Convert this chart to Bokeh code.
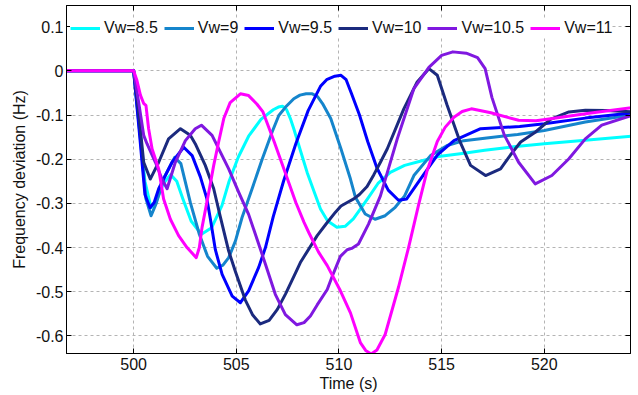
from bokeh.plotting import figure
from bokeh.models import (Legend, LegendItem, LinearAxis, FixedTicker,
                          CustomJSTickFormatter, Range1d)
from bokeh.embed import file_html
from bokeh.resources import INLINE

# ---- data: frequency deviation after the disturbance at t = 500 s ----
series_labels = ["Vw=8.5", "Vw=9", "Vw=9.5", "Vw=10", "Vw=10.5", "Vw=11"]
series_colors = ["#00FFFF", "#1585CC", "#0000FF", "#1B2A7E", "#8018E0", "#FF00FF"]

t_85 = [496.5, 500.0, 500.25, 500.55, 500.85, 501.1, 501.45, 501.8, 502.1, 502.4, 502.8,
        503.3, 503.8, 504.3, 504.65, 505.1, 505.6, 506.2, 506.8, 507.05, 507.25, 507.45,
        507.65, 507.8, 508.1, 508.45, 508.8, 509.1, 509.45, 509.9, 510.3, 510.7, 511.1,
        511.45, 511.9, 512.5, 513.2, 514.0, 514.85, 516.0, 517.1, 518.5, 520.0, 522.0, 524.5]
v_85 = [0, 0, -0.11, -0.25, -0.31, -0.295, -0.255, -0.235, -0.25, -0.29, -0.34,
        -0.37, -0.355, -0.305, -0.25, -0.195, -0.148, -0.11, -0.088, -0.082, -0.080, -0.088,
        -0.11, -0.131, -0.177, -0.23, -0.275, -0.313, -0.34, -0.354, -0.352, -0.335, -0.309,
        -0.286, -0.255, -0.23, -0.214, -0.204, -0.194, -0.187, -0.18, -0.172, -0.165, -0.157,
        -0.147]

t_9 = [496.5, 500.0, 500.3, 500.6, 500.85, 501.1, 501.5, 502.0, 502.3, 502.76, 503.2,
       503.6, 504.05, 504.35, 504.63, 504.96, 505.28, 505.77, 506.26, 506.74, 507.07, 507.4,
       507.8, 508.1, 508.4, 508.7, 508.95, 509.2, 509.6, 510.1, 510.56, 510.8, 511.28, 511.76,
       512.25, 512.74, 513.2, 513.65, 514.46, 515.27, 516.08, 517.2, 518.7, 520.0, 522.0,
       524.5]
v_9 = [0, 0, -0.14, -0.29, -0.328, -0.30, -0.24, -0.196, -0.21, -0.298, -0.37,
       -0.42, -0.447, -0.44, -0.423, -0.385, -0.332, -0.267, -0.2, -0.139, -0.101, -0.082,
       -0.063, -0.055, -0.052, -0.052, -0.058, -0.074, -0.108, -0.177, -0.245, -0.286,
       -0.324, -0.336, -0.328, -0.309, -0.283, -0.237, -0.192, -0.169, -0.158, -0.152,
       -0.144, -0.135, -0.116, -0.098]

t_95 = [496.5, 500.0, 500.3, 500.55, 500.8, 501.0, 501.22, 501.87, 502.44, 502.85, 503.25,
        503.57, 503.74, 503.98, 504.31, 504.8, 505.2, 505.6, 506.09, 506.42, 506.8, 507.3,
        507.9, 508.5, 509.1, 509.4, 509.8, 510.1, 510.35, 510.6, 511.0, 511.4, 511.85, 512.4,
        512.9, 513.3, 513.97, 514.8, 515.6, 516.9, 518.8, 520.0, 522.0, 524.5]
v_95 = [0, 0, -0.15, -0.28, -0.31, -0.298, -0.267, -0.207, -0.173, -0.192, -0.24,
        -0.29, -0.336, -0.405, -0.461, -0.51, -0.525, -0.498, -0.445, -0.4, -0.33, -0.25,
        -0.165, -0.09, -0.035, -0.02, -0.012, -0.01, -0.02, -0.05, -0.10, -0.16, -0.22, -0.27,
        -0.293, -0.29, -0.245, -0.19, -0.158, -0.131, -0.126, -0.12, -0.107, -0.094]

t_10 = [496.5, 500.0, 500.24, 500.49, 500.81, 501.22, 501.7, 502.28, 502.76, 503.0, 503.49,
        503.9, 504.22, 504.63, 504.96, 505.44, 505.8, 506.17, 506.6, 507.0, 507.4, 507.88,
        508.12, 508.94, 509.4, 509.83, 510.1, 510.4, 510.72, 511.0, 511.37, 511.7, 512.02,
        512.35, 513.16, 513.81, 514.38, 514.79, 515.27, 515.9, 516.41, 517.14, 517.87,
        518.36, 518.85, 519.56, 520.3, 521.2, 522.0, 523.0, 524.5]
v_10 = [0, 0, -0.093, -0.207, -0.245, -0.207, -0.154, -0.131, -0.146, -0.165, -0.214,
        -0.267, -0.33, -0.408, -0.455, -0.519, -0.553, -0.573, -0.565, -0.54, -0.505, -0.458,
        -0.434, -0.373, -0.345, -0.32, -0.306, -0.298, -0.29, -0.28, -0.262, -0.235, -0.207,
        -0.177, -0.086, -0.025, 0.005, -0.01, -0.078, -0.161, -0.214, -0.237, -0.222,
        -0.19, -0.161, -0.139, -0.11, -0.093, -0.089, -0.09, -0.093]

t_105 = [496.5, 500.0, 500.24, 500.49, 500.65, 501.06, 501.38, 501.63, 502.03, 502.52, 503.0,
         503.3, 503.82, 504.31, 504.63, 505.12, 505.6, 506.09, 506.42, 506.9, 507.39, 507.95,
         508.3, 508.61, 508.94, 509.43, 509.65, 510.07, 510.4, 510.62, 510.95, 511.44, 512.02,
         512.84, 513.65, 514.38, 515.0, 515.55, 516.2, 516.75, 517.12, 517.45, 518.05, 518.75,
         519.56, 520.37, 521.2, 522.0, 522.8, 524.5]
v_105 = [0, 0, -0.07, -0.146, -0.165, -0.207, -0.245, -0.267, -0.207, -0.158, -0.131,
         -0.123, -0.146, -0.192, -0.222, -0.275, -0.325, -0.392, -0.438, -0.506, -0.552, -0.575,
         -0.57, -0.555, -0.53, -0.495, -0.468, -0.42, -0.405, -0.402, -0.392, -0.347, -0.283,
         -0.154, -0.04, 0.008, 0.035, 0.043, 0.04, 0.03, 0.005, -0.06, -0.145, -0.207,
         -0.256, -0.237, -0.199, -0.154, -0.123, -0.097]

t_11 = [496.5, 500.0, 500.15, 500.33, 500.49, 500.6, 500.73, 500.9, 501.22, 501.46, 501.79,
        502.19, 502.6, 503.05, 503.2, 503.33, 503.66, 503.9, 504.14, 504.39, 504.7, 505.2,
        505.6, 506.0, 506.3, 506.85, 507.35, 507.9, 508.3, 508.53, 509.0, 509.43, 510.07,
        510.56, 511.05, 511.3, 511.57, 511.85, 512.25, 512.9, 513.39, 513.87, 514.3, 514.79,
        515.17, 515.6, 516.0, 516.45, 517.4, 518.75, 519.6, 520.4, 522.0, 524.5]
v_11 = [0, 0, -0.02, -0.055, -0.074, -0.078, -0.131, -0.177, -0.222, -0.29, -0.336,
        -0.373, -0.4, -0.423, -0.4, -0.355, -0.275, -0.214, -0.161, -0.108, -0.072, -0.052,
        -0.056, -0.075, -0.093, -0.161, -0.226, -0.298, -0.343, -0.366, -0.41, -0.441, -0.498,
        -0.548, -0.616, -0.633, -0.641, -0.632, -0.597, -0.49, -0.4, -0.305, -0.225, -0.16,
        -0.128, -0.105, -0.092, -0.086, -0.095, -0.112, -0.113, -0.108, -0.097, -0.082]

series_t = [t_85, t_9, t_95, t_10, t_105, t_11]
series_v = [v_85, v_9, v_95, v_10, v_105, v_11]

x_ticks = [500, 505, 510, 515, 520]
y_ticks = [-0.6, -0.5, -0.4, -0.3, -0.2, -0.1, 0, 0.1]
y_tick_labels = ["-0.6", "-0.5", "-0.4", "-0.3", "-0.2", "-0.1", "0", "0.1"]

FONT = "Liberation Sans"
TEXT = "#111111"

p = figure(width=638, height=395, output_backend="svg", toolbar_location=None,
           x_range=Range1d(496.73, 524.2), y_range=Range1d(-0.64, 0.148),
           min_border_left=66, min_border_right=8, min_border_top=5,
           min_border_bottom=42, background_fill_color="white",
           border_fill_color="white")
p.outline_line_color = "black"
p.outline_line_width = 1

# the figure's own axes, grabbed before the box axes are added
bottom_axis = p.below[0]
left_axis = p.left[0]

bottom_axis.ticker = FixedTicker(ticks=x_ticks)
left_axis.ticker = FixedTicker(ticks=y_ticks)
left_axis.major_label_overrides = {float(k): s for k, s in zip(y_ticks, y_tick_labels)}
p.xgrid.ticker = FixedTicker(ticks=x_ticks)
p.ygrid.ticker = FixedTicker(ticks=y_ticks)
bottom_axis.axis_label = "Time (s)"
left_axis.axis_label = "Frequency deviation (Hz)"

for g in (p.xgrid, p.ygrid):
    g.grid_line_color = "#b4b4b4"
    g.grid_line_dash = "3 3"
    g.grid_line_width = 1

# box ticks on the top and right edges, without labels
top_axis = LinearAxis(ticker=FixedTicker(ticks=x_ticks),
                      formatter=CustomJSTickFormatter(code="return ''"))
right_axis = LinearAxis(ticker=FixedTicker(ticks=y_ticks),
                        formatter=CustomJSTickFormatter(code="return ''"))
p.add_layout(top_axis, "above")
p.add_layout(right_axis, "right")

for ax in [bottom_axis, left_axis, top_axis, right_axis]:
    ax.major_tick_in = 5
    ax.major_tick_out = 0
    ax.minor_tick_line_color = None
    ax.axis_line_color = "black"
    ax.major_tick_line_color = "black"
    ax.major_label_text_font = FONT
    ax.major_label_text_font_size = "16px"
    ax.major_label_text_color = TEXT
    ax.axis_label_text_font = FONT
    ax.axis_label_text_font_size = "16px"
    ax.axis_label_text_font_style = "normal"
    ax.axis_label_text_color = TEXT

top_axis.major_label_standoff = 0
right_axis.major_label_standoff = 0
bottom_axis.major_label_standoff = 4
bottom_axis.axis_label_standoff = 2
left_axis.major_label_standoff = 3
left_axis.axis_label_standoff = 5

items = []
for lab, col, ts, vs in zip(series_labels, series_colors, series_t, series_v):
    r = p.line(ts, vs, line_color=col, line_width=3, line_join="round")
    items.append(LegendItem(label=lab, renderers=[r]))

# legend placed in screen units from the frame's lower-left corner
legend = Legend(items=items, orientation="horizontal", location=(4, 315),
                label_text_font=FONT, label_text_font_size="16px",
                label_text_color=TEXT, glyph_width=30, glyph_height=20,
                label_height=20, label_standoff=4, spacing=6, padding=4,
                margin=0, border_line_color=None,
                background_fill_color="white", background_fill_alpha=1.0)
legend.level = "underlay"
p.add_layout(legend)

open("out.html", "w").write(file_html(p, INLINE))
